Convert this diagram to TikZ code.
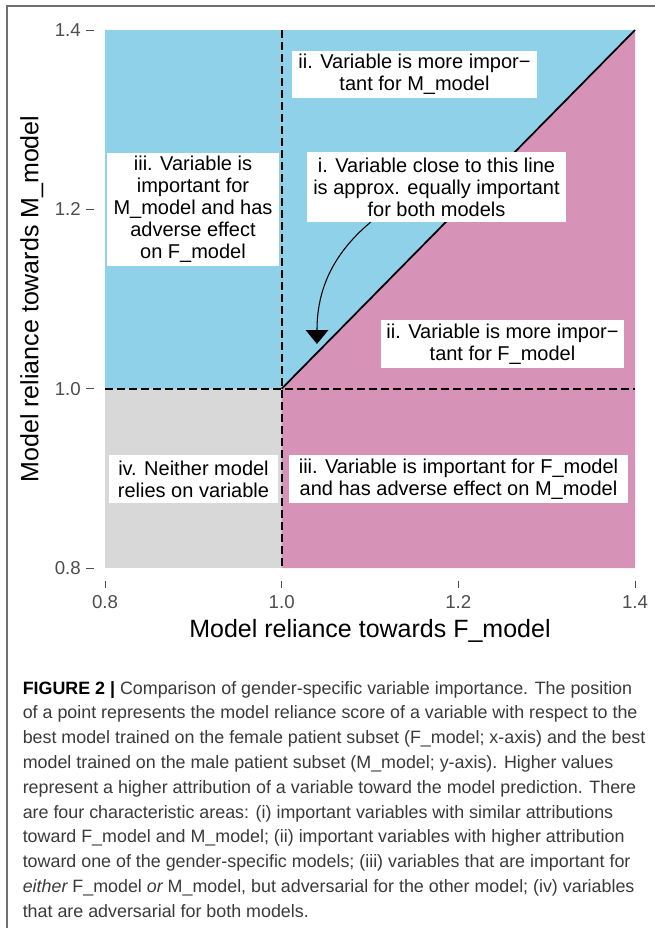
\documentclass[tikz,border=0pt]{standalone}
\usepackage{fontspec}
\setmainfont{Liberation Sans}
\newfontfamily\capfont{Liberation Sans}
\usetikzlibrary{arrows.meta}
\definecolor{skyb}{HTML}{8FD1E8}
\definecolor{pinkr}{HTML}{D692B7}
\definecolor{grayr}{HTML}{D8D8D8}
\definecolor{ticktxt}{HTML}{4D4D4D}
\definecolor{captxt}{HTML}{3A3A3A}
\definecolor{framec}{HTML}{707070}
\begin{document}
\begin{tikzpicture}[x=0.75pt,y=0.75pt,
  lbl/.style={fill=white, align=center, font=\fontsize{15}{16.5}\selectfont, inner sep=0pt},
  dashln/.style={line width=1.3pt, dash pattern=on 6pt off 3pt},
  tickln/.style={draw=ticktxt, line width=0.75pt},
  ticktext/.style={text=ticktxt, font=\fontsize{14}{16}\selectfont, inner sep=0pt},
  axtitle/.style={font=\fontsize{18.75}{22}\selectfont, inner sep=0pt},
  capline/.style={anchor=base west, inner sep=0pt, text=captxt, font=\capfont\fontsize{13.4}{17}\selectfont},
  frameln/.style={draw=framec, line width=1.1pt}
]
\useasboundingbox (0,0) rectangle (655,-928);
% frame
\draw[frameln] (7,-928) -- (7,-6) -- (655,-6);
% plot corners
\coordinate (bl) at (105,-568);
\coordinate (tl) at (105,-30);
\coordinate (tr) at (635,-30);
\coordinate (br) at (635,-568);
\coordinate (o) at (281.7,-388.7);
\coordinate (otop) at (281.7,-30);
\coordinate (obot) at (281.7,-568);
\coordinate (oleft) at (105,-388.7);
\coordinate (oright) at (635,-388.7);
% regions
\fill[skyb] (tl) rectangle (oright);
\fill[grayr] (oleft) rectangle (obot);
\fill[pinkr] (o) -- (tr) -- (br) -- (obot) -- cycle;
% reference lines
\draw[dashln] (otop) -- (obot);
\draw[dashln] (oleft) -- (oright);
\draw[line width=1.3pt] (o) -- (tr);
% y ticks
\foreach \v/\y in {1.4/-30, 1.2/-209.3, 1.0/-388.7, 0.8/-568}{
  \draw[tickln] (86,\y) -- (94,\y);
  \node[ticktext, anchor=east] (yt\v) at (81,\y) {\v};
}
% x ticks
\foreach \v/\x in {0.8/105, 1.0/281.7, 1.2/458.3, 1.4/635}{
  \draw[tickln] (\x,-581) -- (\x,-588);
  \node[ticktext, anchor=base] (xt\v) at (\x,-608) {\v};
}
% axis titles
\node[axtitle, anchor=base] (xtitle) at (370,-637) {Model reliance towards F\_model};
\node[axtitle, anchor=base, rotate=90] (ytitle) at (38.5,-299) {Model reliance towards M\_model};
% labels
\node[lbl, minimum width=183.75pt, minimum height=35.25pt] (boxiiM) at (414.5,-74.5)
  {ii. Variable is more impor−\\tant for M\_model};
\node[lbl, minimum width=194.25pt, minimum height=52.5pt] (boxi) at (436.5,-187)
  {i. Variable close to this line\\is approx. equally important\\for both models};
\node[lbl, minimum width=129pt, minimum height=84.75pt] (boxiiiM) at (193,-209.5)
  {iii. Variable is\\important for\\M\_model and has\\adverse effect\\on F\_model};
\node[lbl, minimum width=182.25pt, minimum height=36pt] (boxiiF) at (502.5,-344)
  {ii. Variable is more impor−\\tant for F\_model};
\node[lbl, minimum width=126.75pt, minimum height=36pt] (boxiv) at (193.5,-479)
  {iv. Neither model\\relies on variable};
\node[lbl, minimum width=254.25pt, minimum height=36pt] (boxiiiF) at (458.5,-479)
  {iii. Variable is important for F\_model\\and has adverse effect on M\_model};
% arrow
\coordinate (arrE) at (317,-344);
\draw[line width=0.8pt, -{Triangle[width=17pt,length=10.5pt]}]
  ([xshift=-49.5pt]boxi.south) to[out=220,in=90] (arrE);
% caption
\node[capline] (cap1) at (22.5,-694) {{\bfseries\color{black}FIGURE 2 |} Comparison of gender-specific variable importance. The position};
\node[capline] (cap2) at (22.5,-718.8) {of a point represents the model reliance score of a variable with respect to the};
\node[capline] (cap3) at (22.5,-743.6) {best model trained on the female patient subset (F\_model; x-axis) and the best};
\node[capline] (cap4) at (22.5,-768.4) {model trained on the male patient subset (M\_model; y-axis). Higher values};
\node[capline] (cap5) at (22.5,-793.2) {represent a higher attribution of a variable toward the model prediction. There};
\node[capline] (cap6) at (22.5,-818) {are four characteristic areas: (i) important variables with similar attributions};
\node[capline] (cap7) at (22.5,-842.8) {toward F\_model and M\_model; (ii) important variables with higher attribution};
\node[capline] (cap8) at (22.5,-867.6) {toward one of the gender-specific models; (iii) variables that are important for};
\node[capline] (cap9) at (22.5,-892.4) {\itshape either\upshape\ F\_model \itshape or\upshape\ M\_model, but adversarial for the other model; (iv) variables};
\node[capline] (cap10) at (22.5,-917.2) {that are adversarial for both models.};
\end{tikzpicture}
\end{document}
